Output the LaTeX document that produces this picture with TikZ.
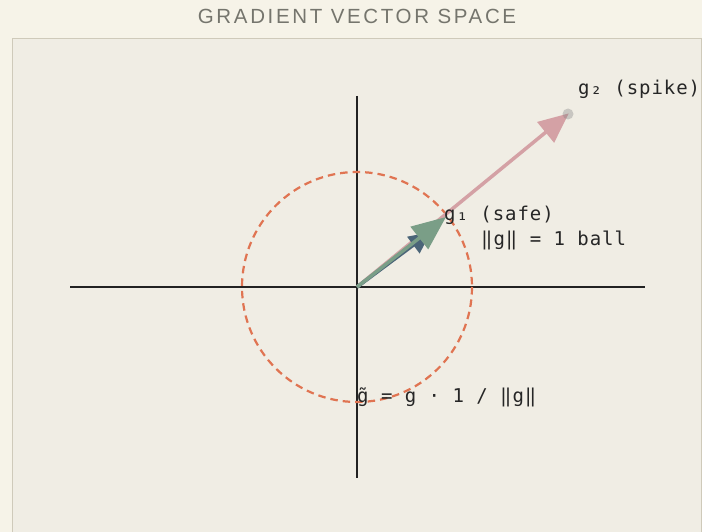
\documentclass[tikz,border=0pt]{standalone}
\usepackage{fontspec}
\usetikzlibrary{arrows.meta}
\newfontfamily\monof[LetterSpace=5]{DejaVu Sans Mono}
\newfontfamily\titlef[LetterSpace=13]{Liberation Sans}
\definecolor{outerbg}{HTML}{F6F3E8}
\definecolor{panelbg}{HTML}{F0EDE4}
\definecolor{panelline}{HTML}{CFCABA}
\definecolor{titlegray}{HTML}{75756D}
\definecolor{axiscol}{HTML}{222222}
\definecolor{ballcol}{HTML}{E07452}
\definecolor{spikecol}{HTML}{D4A1A5}
\definecolor{safecol}{HTML}{7A9E87}
\definecolor{clipcol}{HTML}{4B6578}
\definecolor{textcol}{HTML}{262626}
\tikzset{
  axis/.style={draw=axiscol, line width=1.5pt},
  lbl/.style={font=\monof\fontsize{19}{21}\selectfont, text=textcol, inner sep=0pt, anchor=base west},
  vec/.style={line width=3.5pt},
}
\begin{document}
\begin{tikzpicture}[x=1pt,y=-1pt]
\useasboundingbox (0,0) rectangle (702,532);
\fill[outerbg] (0,0) rectangle (702,532);
\filldraw[fill=panelbg, draw=panelline, line width=1.5pt] (12.5,38.5) rectangle (701.5,540);
\node[font=\titlef\fontsize{20.5}{22}\selectfont, text=titlegray, inner sep=0pt] (title) at (357,16) {GRADIENT VECTOR SPACE};
% axes
\coordinate (o) at (357,287);
\coordinate (xl) at (70,287);
\coordinate (xr) at (645,287);
\coordinate (yt) at (357,96);
\coordinate (yb) at (357,478);
\draw[axis] (xl) -- (xr);
\draw[axis] (yt) -- (yb);
% unit ball
\draw[ballcol, line width=2.2pt, dash pattern=on 7.5pt off 5pt] (o) circle[radius=115];
% spike vector
\coordinate (g2) at (568,114);
\draw[vec, spikecol, -{Triangle[length=30pt,width=26pt]}, shorten >=-1pt] (o) -- (g2);
\fill[gray, opacity=0.35] (g2) circle[radius=5.5];
% clipped vector
\coordinate (gc) at (431,232);
\draw[vec, clipcol, -{Triangle[length=22pt,width=20pt]}] (o) -- (gc);
% safe vector
\coordinate (g1) at (446,217);
\draw[vec, safecol, -{Triangle[length=34pt,width=28pt]}] (o) -- (g1);
% labels
\node[lbl] (l1) at (444,220) {g₁ (safe)};
\node[lbl] (l2) at (481,245) {‖g‖ = 1 ball};
\node[lbl] (l3) at (578,95) {g₂ (spike)};
\node[lbl] (l4) at (357,402) {g̃ = g · 1 / ‖g‖};
\end{tikzpicture}
\end{document}
